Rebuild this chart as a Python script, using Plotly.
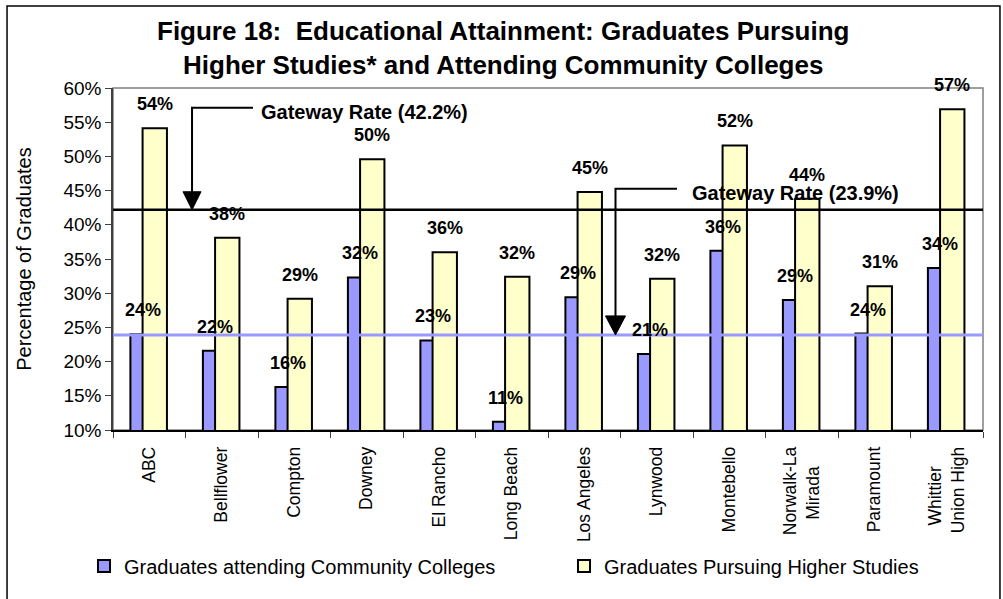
import plotly.graph_objects as go

# --- data -------------------------------------------------------------
schools = [
    "ABC", "Bellflower", "Compton", "Downey", "El Rancho", "Long Beach",
    "Los Angeles", "Lynwood", "Montebello", "Norwalk-La<br>Mirada",
    "Paramount", "Whittier<br>Union High",
]
cc_pct = [24.0, 21.6, 16.3, 32.3, 23.1, 11.2, 29.4, 21.1, 36.2, 29.0, 24.1, 33.7]
higher_pct = [54.1, 38.1, 29.2, 49.6, 36.0, 32.4, 44.8, 32.1, 51.6, 43.8, 31.0, 56.9]
gateway_higher = 42.2
gateway_cc = 23.9
y_ticks = list(range(10, 61, 5))
y_ticktext = [f"{v}%" for v in y_ticks]

series_names = ["Graduates attending Community Colleges",
                "Graduates Pursuing Higher Studies"]
title_lines = ["Figure 18:  Educational Attainment: Graduates Pursuing",
               "Higher Studies* and Attending Community Colleges"]

# --- style ------------------------------------------------------------
FONT = "Arial, 'Liberation Sans', sans-serif"
BLUE = "#9999FF"
YELLOW = "#FFFFCC"
BAR_W = 0.336
CC_OFF = -0.26
HI_OFF = -0.092
NBSP = "\u00a0"

xpos = list(range(len(schools)))
# centre the shorter line of the two-line rotated labels
x_ticktext = [
    s.replace("<br>Mirada", "<br>Mirada" + NBSP * 4)
     .replace("Whittier<br>", "Whittier" + NBSP * 4 + "<br>")
    for s in schools
]

fig = go.Figure()
fig.add_trace(go.Bar(
    x=xpos, y=cc_pct, width=BAR_W, offset=CC_OFF, name=series_names[0],
    marker=dict(color=BLUE, line=dict(color="black", width=2)),
    legend="legend",
))
fig.add_trace(go.Bar(
    x=xpos, y=higher_pct, width=BAR_W, offset=HI_OFF, name=series_names[1],
    marker=dict(color=YELLOW, line=dict(color="black", width=2)),
    legend="legend2",
))

annotations = []
# value labels above each bar
for vals, off in ((cc_pct, CC_OFF), (higher_pct, HI_OFF)):
    for i, v in enumerate(vals):
        annotations.append(dict(
            x=i + off + BAR_W / 2, y=v, xref="x", yref="y",
            text=f"{v:.0f}%", showarrow=False, yanchor="bottom", yshift=12,
            font=dict(family=FONT, size=18, color="black", weight="bold"),
        ))

# chart title (two centred lines)
for line, ypap in zip(title_lines, (1.1667, 1.0673)):
    annotations.append(dict(
        x=0.4483, y=ypap, xref="paper", yref="paper", text=line,
        showarrow=False, xanchor="center", yanchor="middle",
        font=dict(family=FONT, size=26, color="black", weight="bold"),
    ))

# gateway rate callouts
callouts = [
    # rate, elbow x (vertical leg), elbow end x, elbow y, text x, head half-width, head height
    (gateway_higher, 0.590, 1.431, 57.12, 1.514, 0.124, 2.63),
    (gateway_cc, 6.431, 7.279, 45.26, 7.459, 0.138, 2.78),
]
shapes = []
for rate, vx, hx, ey, tx, hw, hh in callouts:
    annotations.append(dict(
        x=tx, y=ey, xref="x", yref="y", text=f"Gateway Rate ({rate}%)",
        showarrow=False, xanchor="left", yanchor="middle", yshift=-4,
        font=dict(family=FONT, size=20, color="black", weight="bold"),
    ))
    shapes.append(dict(
        type="path", xref="x", yref="y",
        path=f"M {hx},{ey} L {vx},{ey} L {vx},{rate + hh}",
        line=dict(color="black", width=2),
    ))
    shapes.append(dict(
        type="path", xref="x", yref="y",
        path=f"M {vx - hw},{rate + hh} L {vx + hw},{rate + hh} L {vx},{rate} Z",
        fillcolor="black", line=dict(color="black", width=1),
    ))

# plot-area border (grey) and gateway reference lines
shapes = [dict(type="rect", xref="paper", yref="paper", x0=0, x1=1, y0=0, y1=1,
               line=dict(color="#808080", width=1.5), layer="below")] + [
    dict(type="line", xref="paper", yref="y", x0=0, x1=1,
         y0=gateway_higher, y1=gateway_higher,
         line=dict(color="black", width=2.5)),
    dict(type="line", xref="paper", yref="y", x0=0, x1=1,
         y0=gateway_cc, y1=gateway_cc,
         line=dict(color=BLUE, width=3)),
] + shapes

# outer chart frame
shapes.append(dict(type="rect", xref="paper", yref="paper",
                   x0=-0.1218, x1=1.0195, y0=-0.5, y1=1.2398,
                   line=dict(color="black", width=1.5)))

legend_style = dict(
    orientation="h", xanchor="left", y=-0.398, yanchor="middle",
    font=dict(family=FONT, size=20, color="black"),
    bgcolor="rgba(0,0,0,0)", borderwidth=0,
)

fig.update_layout(
    width=1003, height=599,
    margin=dict(l=113, r=20, t=88, b=169, autoexpand=False),
    paper_bgcolor="white", plot_bgcolor="white",
    barmode="overlay",
    font=dict(family=FONT, size=16, color="black"),
    showlegend=True,
    legend=dict(x=-0.0333, **legend_style),
    legend2=dict(x=0.5184, **legend_style),
    xaxis=dict(
        range=[-0.5, 11.5], tickmode="array", tickvals=xpos, ticktext=x_ticktext,
        tickangle=-90, ticks="", showgrid=False, zeroline=False,
        showline=True, linecolor="black", linewidth=1.5,
        ticklabelstandoff=8,
        tickfont=dict(family=FONT, size=17.5, color="black"),
        minor=dict(tickmode="array", tickvals=[i - 0.5 for i in range(len(schools) + 1)],
                   ticks="outside", ticklen=6, tickwidth=1.2, tickcolor="#404040",
                   showgrid=False),
    ),
    yaxis=dict(
        range=[10, 60], tickmode="array", tickvals=y_ticks, ticktext=y_ticktext,
        ticks="outside", ticklen=6, tickwidth=1.2, tickcolor="#404040",
        showgrid=False, zeroline=False,
        showline=True, linecolor="#404040", linewidth=1.5,
        tickfont=dict(family=FONT, size=19, color="black"),
        title=dict(text="Percentage of Graduates", standoff=26,
                   font=dict(family=FONT, size=20, color="black")),
    ),
    annotations=annotations,
    shapes=shapes,
)

fig.write_html("out.html")
